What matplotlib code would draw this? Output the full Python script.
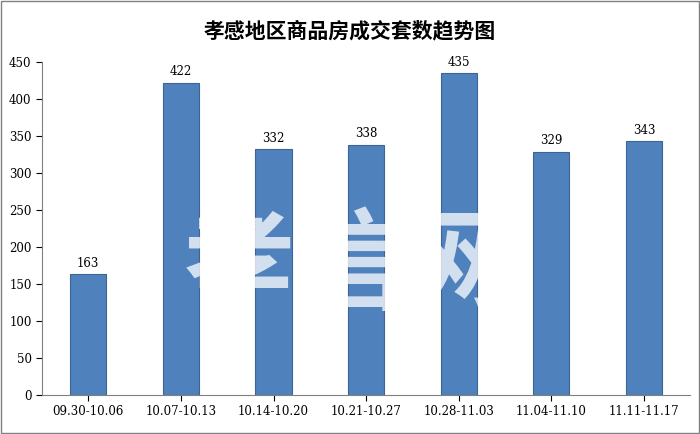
import matplotlib
matplotlib.use("Agg")
import matplotlib.pyplot as plt
from matplotlib.patches import Rectangle

plt.rcParams['font.family'] = ['Noto Sans CJK SC', 'DejaVu Sans']

categories = ["09.30-10.06", "10.07-10.13", "10.14-10.20", "10.21-10.27",
              "10.28-11.03", "11.04-11.10", "11.11-11.17"]
values = [163, 422, 332, 338, 435, 329, 343]
title = "孝感地区商品房成交套数趋势图"

fig = plt.figure(figsize=(7, 4.34), dpi=100)
ax = fig.add_axes([0.06, 0.09, 0.926, 0.767])
x = range(len(categories))
ax.bar(x, values, width=0.39, color="#4F81BD", edgecolor="#3A6596", linewidth=0.8)
for i, v in zip(x, values):
    ax.text(i, v + 6, str(v), ha="center", va="bottom", fontsize=8.5, family="DejaVu Serif")
ax.set_xlim(-0.5, len(categories) - 0.5)
ax.set_ylim(0, 450)
ax.set_yticks(range(0, 451, 50))
ax.set_xticks(list(x))
ax.set_xticklabels(categories, fontsize=8.5, family="DejaVu Serif")
ax.tick_params(axis="y", labelsize=8.5)
for lab in ax.get_yticklabels():
    lab.set_family("DejaVu Serif")
ax.spines["top"].set_visible(False)
ax.spines["right"].set_visible(False)
ax.spines["left"].set_color("#808080")
ax.spines["bottom"].set_color("#808080")
ax.tick_params(colors="black", length=4)
fig.text(0.5, 0.93, title, ha="center", va="center", fontsize=15, fontweight="bold")
fig.text(0.5, 0.38, "孝信网", ha="center", va="center", fontsize=80, fontweight="bold",
         color="white", alpha=0.75)
fig.patches.append(Rectangle((0.002, 0.002), 0.996, 0.996, transform=fig.transFigure,
                             fill=False, edgecolor="#808080", linewidth=1))
fig.savefig("out.png", dpi=100)
